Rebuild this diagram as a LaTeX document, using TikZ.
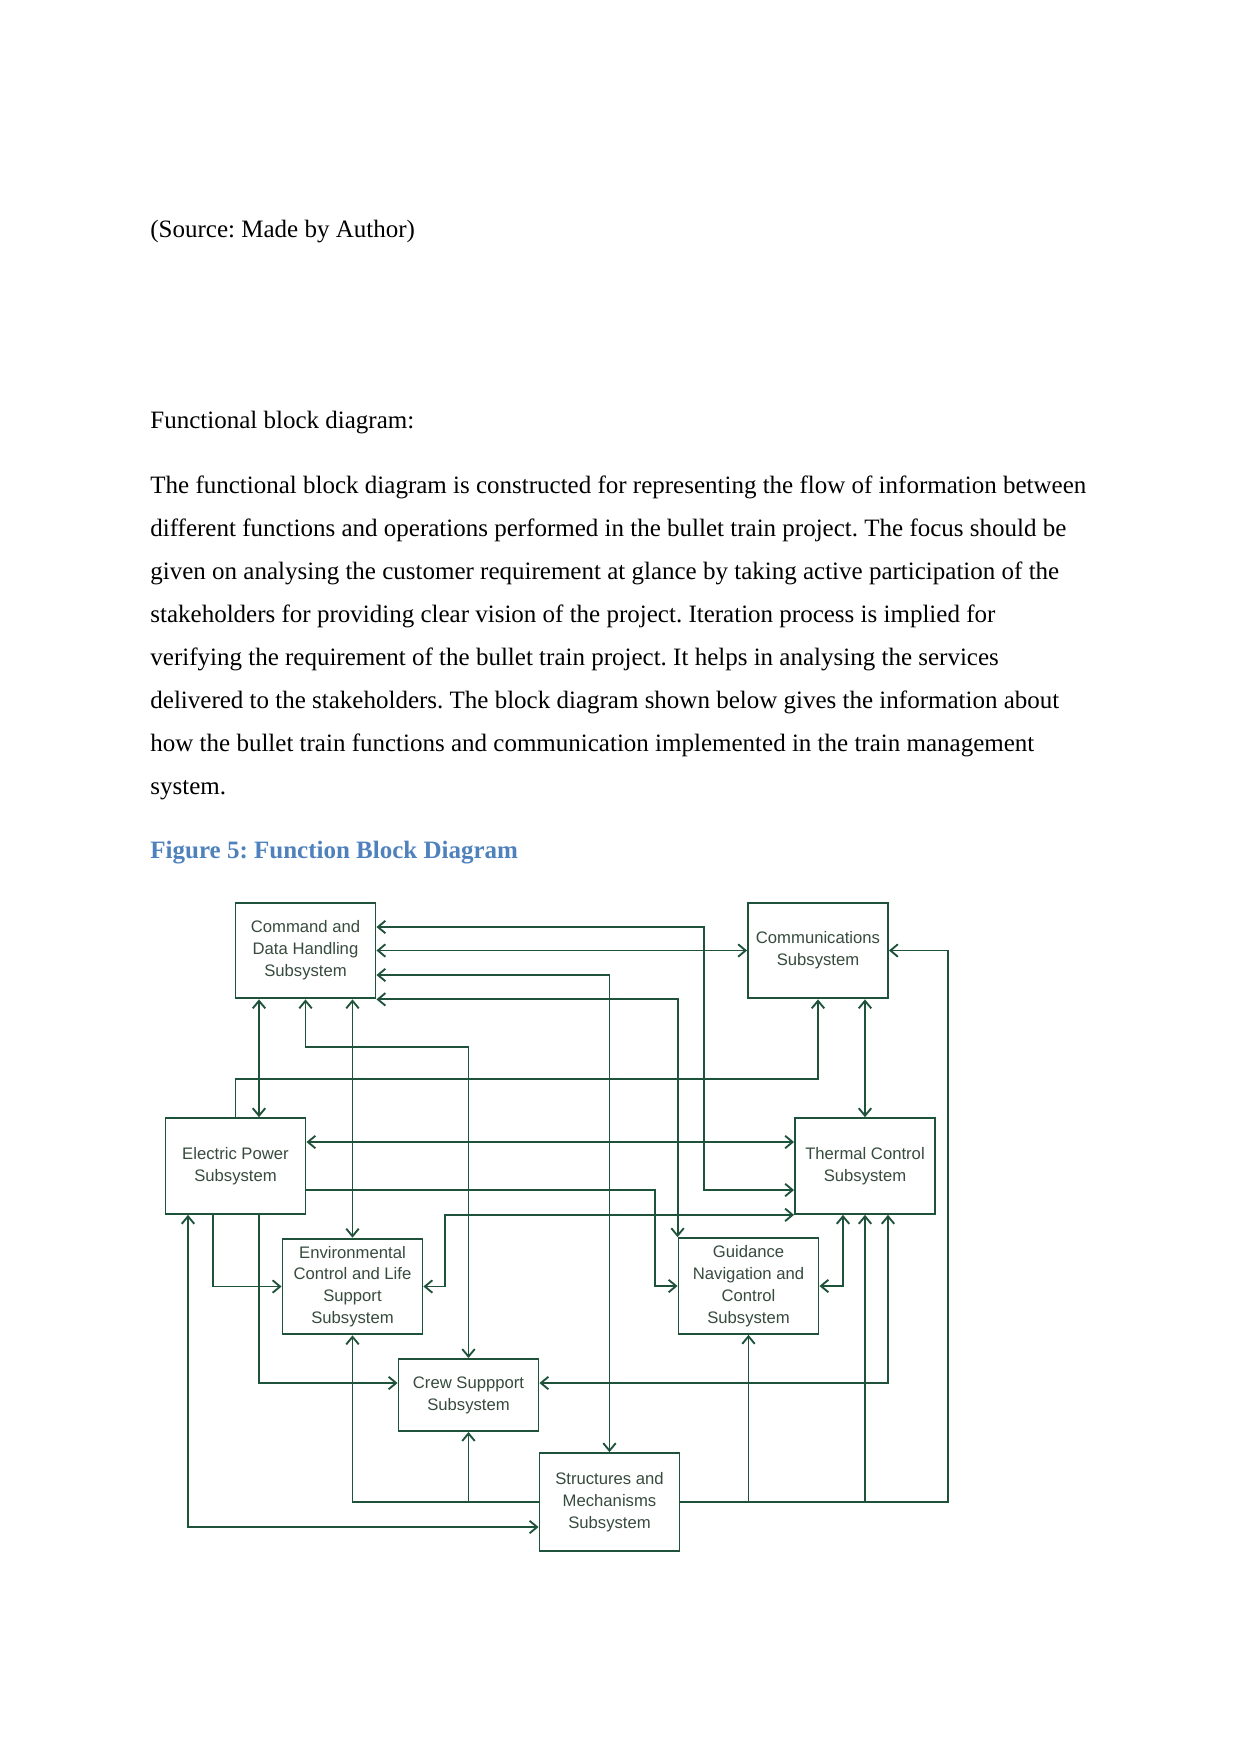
\documentclass[tikz,border=0pt]{standalone}
\usepackage{fontspec}
\setmainfont{Liberation Serif}
\newfontfamily\boxfont{Liberation Sans}
\usetikzlibrary{arrows.meta}
\definecolor{lineg}{RGB}{30,82,58}
\definecolor{textg}{RGB}{55,75,62}
\definecolor{capblue}{RGB}{79,129,189}
\frenchspacing
\tikzset{
  para/.style={anchor=base west, inner sep=0pt, font=\fontsize{12}{14}\selectfont},
  blockbox/.style={draw=lineg, line width=0.9pt, fill=white, inner sep=1pt,
    minimum width=67.2pt, minimum height=46pt, align=center,
    text=textg, font=\boxfont\fontsize{8}{10.5}\selectfont},
  conn/.style={draw=lineg, line width=0.9pt},
  onearr/.style={conn, -{Straight Barb[length=3.6pt,width=6pt]}},
  twoarr/.style={conn, {Straight Barb[length=3.6pt,width=6pt]}-{Straight Barb[length=3.6pt,width=6pt]}}
}
\begin{document}
\begin{tikzpicture}[x=0.48pt, y=-0.48pt]
\useasboundingbox (0,0) rectangle (1241,1754);
% page text
\node[para] (src) at (150,237) {(Source: Made by Author)};
\node[para] (fbd) at (150,428) {Functional block diagram:};
\node[para] (l1) at (150,493) {The functional block diagram is constructed for representing the flow of information between};
\node[para] (l2) at (150,536) {different functions and operations performed in the bullet train project. The focus should be};
\node[para] (l3) at (150,579) {given on analysing the customer requirement at glance by taking active participation of the};
\node[para] (l4) at (150,622) {stakeholders for providing clear vision of the project. Iteration process is implied for};
\node[para] (l5) at (150,665) {verifying the requirement of the bullet train project. It helps in analysing the services};
\node[para] (l6) at (150,708) {delivered to the stakeholders. The block diagram shown below gives the information about};
\node[para] (l7) at (150,751) {how the bullet train functions and communication implemented in the train management};
\node[para] (l8) at (150,794) {system.};
\node[para, text=capblue, font=\fontsize{12}{14}\selectfont\bfseries] (cap) at (150,858) {Figure 5: Function Block Diagram};

% blocks
\node[blockbox] (CDH) at (305.5,950.5) {Command and\\Data Handling\\Subsystem};
\node[blockbox] (Comms) at (818,950.5) {Communications\\Subsystem};
\node[blockbox] (EP) at (235.5,1166) {Electric Power\\Subsystem};
\node[blockbox] (Thermal) at (865,1166) {Thermal Control\\Subsystem};
\node[blockbox] (Env) at (352.5,1286.5) {Environmental\\Control and Life\\Support\\Subsystem};
\node[blockbox] (Guid) at (748.5,1286) {Guidance\\Navigation and\\Control\\Subsystem};
\node[blockbox, minimum height=34.6pt] (Crew) at (468.5,1395) {Crew Suppport\\Subsystem};
\node[blockbox, minimum height=47pt] (Struct) at (609.5,1502) {Structures and\\Mechanisms\\Subsystem};

% connectors
\draw[twoarr] (CDH.east |- 0,927) -| (704,1190) -- (Thermal.west |- 0,1190);
\draw[twoarr] (CDH.east) -- (Comms.west);
\draw[twoarr] (CDH.east |- 0,975) -| (Struct.north);
\draw[twoarr] (CDH.south east) -| (Guid.north west);
\draw[twoarr] (CDH.south -| 259,0) -- (EP.north -| 259,0);
\draw[twoarr] (CDH.south) |- (Crew.north |- 0,1047) -- (Crew.north);
\draw[twoarr] (CDH.south -| Env.north) -- (Env.north);
\draw[onearr] (EP.north) |- (Comms.south |- 0,1079) -- (Comms.south);
\draw[twoarr] (EP.east |- 0,1142) -- (Thermal.west |- 0,1142);
\draw[onearr] (EP.east |- 0,1190) -| (655,1286) -- (Guid.west);
\draw[twoarr] (Thermal.south west) -| (445,1286.5) -- (Env.east);
\draw[twoarr] (Comms.south -| Thermal.north) -- (Thermal.north);
\draw[twoarr] (Guid.east) -| (Thermal.south -| 843,0);
\draw[twoarr] (Crew.east |- 0,1383) -| (Thermal.south -| 888,0);
\draw[onearr] (EP.south -| 213,0) |- (Env.west);
\draw[onearr] (EP.south -| 259,0) |- (Crew.west |- 0,1383);
\draw[twoarr] (EP.south -| 188,0) |- (Struct.west |- 0,1527);
\draw[onearr] (Struct.west) -| (Env.south);
\draw[onearr] (Struct.west) -| (Crew.south);
\draw[onearr] (Struct.east) -| (Guid.south);
\draw[onearr] (Struct.east) -| (Thermal.south);
\draw[onearr] (Struct.east) -| (948,950.5) -- (Comms.east);
\end{tikzpicture}
\end{document}
